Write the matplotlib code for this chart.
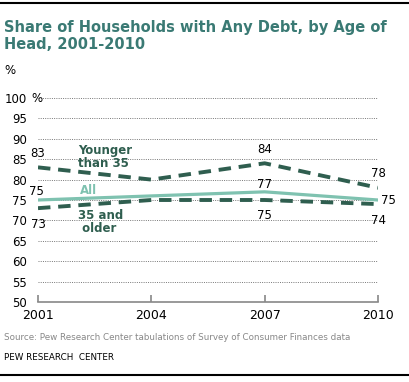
import matplotlib.pyplot as plt
from matplotlib.lines import Line2D

# data
years = [2001, 2004, 2007, 2010]
younger = [83, 80, 84, 78]
all_hh = [75, 76, 77, 75]
older = [73, 75, 75, 74]
yticks = [50, 55, 60, 65, 70, 75, 80, 85, 90, 95, 100]

dark = '#2f5e4f'
light = '#7fc2b0'
title_col = '#3a7a74'

plt.rcParams['font.family'] = 'DejaVu Sans'

fig = plt.figure(figsize=(4.10, 3.82), dpi=100)
ax = fig.add_axes([38/410, 1 - 302/382, 340/410, 204/382])
ax.set_xlim(2001, 2010)
ax.set_ylim(50, 100)

# gridlines
for v in yticks[1:]:
    ax.axhline(v, color='#777777', lw=0.7, ls=(0, (1, 1.3)), zorder=0)

ax.plot(years, younger, color=dark, lw=2.8, ls=(0, (3.2, 2.0)))
ax.plot(years, older, color=dark, lw=2.8, ls=(0, (3.2, 2.0)))
ax.plot(years, all_hh, color=light, lw=2.3)

for s in ['top', 'right', 'left']:
    ax.spines[s].set_visible(False)
ax.spines['bottom'].set_color('#888888')
ax.spines['bottom'].set_linewidth(1.2)
ax.set_xticks(years)
ax.set_xticklabels([str(y) for y in years], fontsize=9)
ax.tick_params(axis='x', direction='in', length=5, color='#888888', width=1.2, pad=5)
ax.set_yticks(yticks)
ax.set_yticklabels([str(v) for v in yticks], fontsize=8.5)
ax.tick_params(axis='y', length=0, pad=8)
ax.annotate('%', (years[0], yticks[-1]), xytext=(-5, 0), textcoords='offset points',
            fontsize=8.5, ha='left', va='center')

# value labels
def lab(x, y, txt, dx, dy, ha='center'):
    ax.annotate(txt, (x, y), xytext=(dx, dy), textcoords='offset points',
                fontsize=8.5, ha=ha, va='center')

lab(years[0], younger[0], str(younger[0]), 0, 10)
lab(years[2], younger[2], str(younger[2]), 0, 10)
lab(years[3], younger[3], str(younger[3]), 0, 10)
lab(years[0], all_hh[0], str(all_hh[0]), -1, 6)
lab(years[2], all_hh[2], str(all_hh[2]), 0, 5)
lab(years[3], all_hh[3], str(all_hh[3]), 2, 0, ha='left')
lab(years[0], older[0], str(older[0]), 0, -12)
lab(years[2], older[2], str(older[2]), 0, -11)
lab(years[3], older[3], str(older[3]), 0, -12)

ax.text(2002.05, 85.5, 'Younger\nthan 35', fontsize=8.5, fontweight='bold', color=dark,
        ha='left', va='center', linespacing=1.0)
ax.text(2002.1, 77.3, 'All', fontsize=8.5, fontweight='bold', color=light,
        ha='left', va='center')
ax.text(2002.05, 69.5, '35 and\n older', fontsize=8.5, fontweight='bold', color=dark,
        ha='left', va='center', linespacing=1.0)

# title and notes
fig.text(4/410, 1 - 36/382, 'Share of Households with Any Debt, by Age of\nHead, 2001-2010',
         fontsize=10.5, fontweight='bold', color=title_col, ha='left', va='center',
         linespacing=1.15)
fig.text(4/410, 1 - 70/382, '%', fontsize=8.5, ha='left', va='center')
fig.text(4/410, 1 - 338/382, 'Source: Pew Research Center tabulations of Survey of Consumer Finances data',
         fontsize=6.3, color='#888888', ha='left', va='center')
fig.text(4/410, 1 - 357/382, 'PEW RESEARCH  CENTER', fontsize=6.3, ha='left', va='center')

fig.add_artist(Line2D([0, 1], [1 - 3/382, 1 - 3/382], color='black', lw=1.5))
fig.add_artist(Line2D([0, 1], [1 - 375/382, 1 - 375/382], color='black', lw=1.5))

fig.savefig('out.png', dpi=100)
